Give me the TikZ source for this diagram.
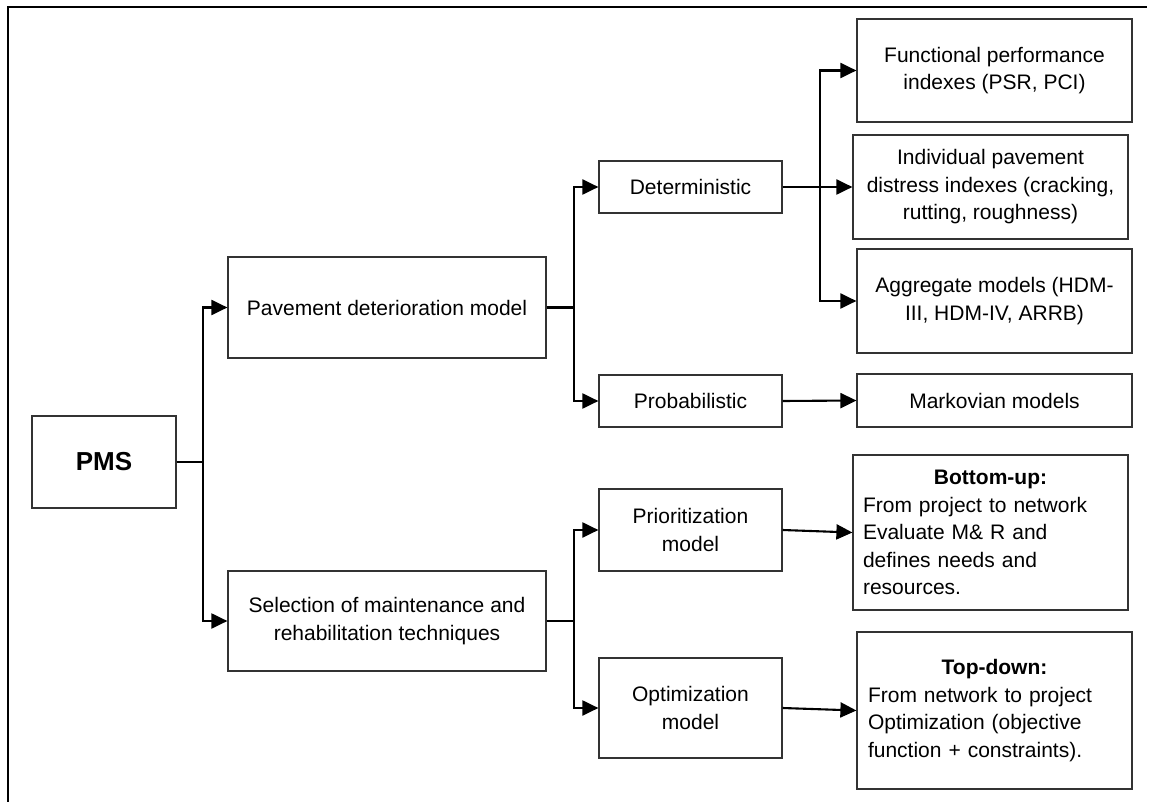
\documentclass[tikz,border=0pt]{standalone}
\usepackage{fontspec}
\setmainfont{Liberation Sans}
\usetikzlibrary{arrows.meta}

\tikzset{
  box/.style={draw=black!80, line width=1.2pt, inner sep=0pt, align=center,
    font=\fontsize{21}{27.5}\selectfont},
  notebox/.style={box, inner xsep=10pt, text width=255pt, align=left},
  conn/.style={draw=black, line width=2.1pt, -{Triangle[length=16pt,width=15pt]}},
  frameline/.style={draw=black, line width=2pt},
}

\begin{document}
\begin{tikzpicture}[x=1pt,y=-1pt]
\useasboundingbox (0,0) rectangle (1154,802);

% outer frame (open at the bottom and on the right)
\draw[frameline] (8,802) -- (8,7) -- (1147,7);

% root
\node[box, minimum width=144pt, minimum height=92pt,
      font=\fontsize{26}{30}\selectfont\bfseries] (pms) at (104,462) {PMS};

% first level
\node[box, minimum width=318pt, minimum height=101pt] (pav) at (387,307.5)
  {Pavement deterioration model};
\node[box, minimum width=318pt, minimum height=100pt] (sel) at (387,621)
  {Selection of maintenance and\\rehabilitation techniques};

% second level
\node[box, minimum width=183pt, minimum height=52pt] (det) at (690.5,187) {Deterministic};
\node[box, minimum width=183pt, minimum height=52pt] (prob) at (690.5,401) {Probabilistic};
\node[box, minimum width=183pt, minimum height=82pt] (prio) at (690.5,530)
  {Prioritization\\model};
\node[box, minimum width=183pt, minimum height=100pt] (opt) at (690.5,708)
  {Optimization\\model};

% third level
\node[box, minimum width=275pt, minimum height=103pt] (func) at (994.5,70.5)
  {Functional performance\\indexes (PSR, PCI)};
\node[box, minimum width=275pt, minimum height=104pt] (ind) at (990.5,187)
  {Individual pavement\\distress indexes (cracking,\\rutting, roughness)};
\node[box, minimum width=275pt, minimum height=104pt] (agg) at (994.5,301)
  {Aggregate models (HDM-\\III, HDM-IV, ARRB)};
\node[box, minimum width=275pt, minimum height=53pt] (mark) at (994.5,400.5)
  {Markovian models};
\node[notebox, minimum width=275pt, minimum height=155pt] (bu) at (990.5,532.5)
  {\makebox[255pt][c]{\bfseries Bottom-up:}\\
   From project to network\\
   Evaluate M\& R and\\
   defines needs and\\
   resources.};
\node[notebox, inner xsep=11pt, text width=253pt, minimum width=275pt,
      minimum height=157pt] (td) at (994.5,710.5)
  {\makebox[253pt][c]{\bfseries Top-down:}\\
   From network to project\\
   Optimization (objective\\
   function + constraints).};

% connectors
\draw[conn] (pms.east) -- ++(26,0) |- (pav.west);
\draw[conn] (pms.east) -- ++(26,0) |- (sel.west);

\draw[conn] (pav.east) -- ++(27,0) |- (det.west);
\draw[conn] (pav.east) -- ++(27,0) |- (prob.west);
\draw[conn] (sel.east) -- ++(27,0) |- (prio.west);
\draw[conn] (sel.east) -- ++(27,0) |- (opt.west);

\draw[conn] (det.east) -- (ind.west);
\draw[conn] (det.east) -- ++(37,0) |- (func.west);
\draw[conn] (det.east) -- ++(37,0) |- (agg.west);
\draw[conn] (prob.east) -- (mark.west);
\draw[conn] (prio.east) -- (bu.west);
\draw[conn] (opt.east) -- (td.west);
\end{tikzpicture}
\end{document}
